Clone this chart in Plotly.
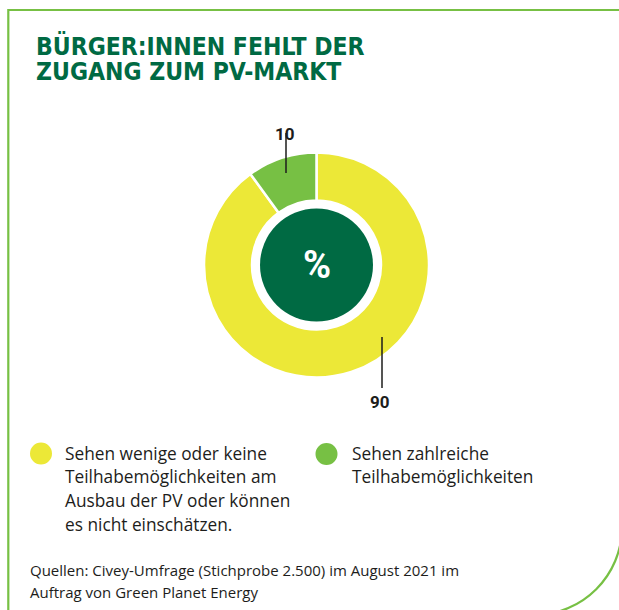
import plotly.graph_objects as go

# ---------------- data ----------------
title_lines = ["BÜRGER:INNEN FEHLT DER", "ZUGANG ZUM PV-MARKT"]
legend_lines = [
    ["Sehen wenige oder keine", "Teilhabemöglichkeiten am", "Ausbau der PV oder können", "es nicht einschätzen."],
    ["Sehen zahlreiche", "Teilhabemöglichkeiten"],
]
categories = [" ".join(l) for l in legend_lines]
values = [90, 10]
colors = ["#ece837", "#77c044"]
center_label = "%"
source_lines = [
    "Quellen: Civey-Umfrage (Stichprobe 2.500) im August 2021 im",
    "Auftrag von Green Planet Energy",
]

# ---------------- layout helpers ----------------
W, H = 619, 610
DARK = "#006a43"
TEXT = "#1d1d1b"
FRAME = "#77c044"
BODY_FONT = "Open Sans"


def px(x):
    return x / W


def py(y):
    return 1 - y / H


cx, cy, R_out, R_hole, R_core = 316.5, 265, 112.5, 64.5, 56.5

fig = go.Figure()
fig.add_trace(go.Pie(
    labels=categories,
    values=values,
    sort=False,
    direction="clockwise",
    rotation=0,
    hole=R_hole / R_out,
    marker=dict(colors=colors, line=dict(color="white", width=2.5)),
    textinfo="none",
    hoverinfo="label+value",
    showlegend=False,
    domain=dict(x=[px(cx - R_out), px(cx + R_out)], y=[py(cy + R_out), py(cy - R_out)]),
))

shapes = []
# frame with rounded bottom-right corner
xr, yb, rc = 622, 615, 88
k = 0.5523 * rc
pts = [
    ("M", [(8.3, 640)]),
    ("L", [(8.3, 10)]),
    ("L", [(xr, 10)]),
    ("L", [(xr, yb - rc)]),
    ("C", [(xr, yb - rc + k), (xr - rc + k, yb), (xr - rc, yb)]),
    ("L", [(8.3, yb)]),
]
path = " ".join(cmd + " " + " ".join(f"{px(x):.5f},{py(y):.5f}" for x, y in p) for cmd, p in pts)
shapes.append(dict(type="path", xref="paper", yref="paper", path=path,
                   line=dict(color=FRAME, width=2.2)))
# inner core disk
shapes.append(dict(type="circle", xref="paper", yref="paper",
                   x0=px(cx - R_core), x1=px(cx + R_core), y0=py(cy + R_core), y1=py(cy - R_core),
                   fillcolor=DARK, line=dict(width=0)))
# leader lines
shapes.append(dict(type="line", xref="paper", yref="paper", x0=px(286), x1=px(286), y0=py(133), y1=py(173),
                   line=dict(color=TEXT, width=1.5)))
shapes.append(dict(type="line", xref="paper", yref="paper", x0=px(382), x1=px(382), y0=py(337), y1=py(388),
                   line=dict(color=TEXT, width=1.5)))
# legend dots
legend_pos = [(41, 453.5, 63), (326.5, 454, 350)]
for (lx, ly, tx), c in zip(legend_pos, colors):
    shapes.append(dict(type="circle", xref="paper", yref="paper",
                       x0=px(lx - 11), x1=px(lx + 11), y0=py(ly + 11), y1=py(ly - 11),
                       fillcolor=c, line=dict(width=0)))

ann = []
# title
for i, t in enumerate(title_lines):
    ann.append(dict(text=t, x=px(34), y=py(46.5 + i * 25), xref="paper", yref="paper",
                    xanchor="left", yanchor="middle", showarrow=False,
                    font=dict(family="DejaVu Sans Condensed, Roboto", size=24.5, color=DARK, weight="bold")))
# centre label
ann.append(dict(text=center_label, x=px(cx), y=py(cy), xref="paper", yref="paper",
                showarrow=False, font=dict(family="Roboto", size=38, color="white", weight="bold")))
# value labels
ann.append(dict(text=str(values[1]), x=px(285), y=py(122.5), xref="paper", yref="paper",
                showarrow=False, font=dict(family="Roboto", size=17, color=TEXT, weight="bold")))
ann.append(dict(text=str(values[0]), x=px(380), y=py(402), xref="paper", yref="paper",
                showarrow=False, font=dict(family="Roboto", size=17, color=TEXT, weight="bold")))
# legend texts
for (lx, ly, tx), lines in zip(legend_pos, legend_lines):
    for j, line in enumerate(lines):
        ann.append(dict(text=line, x=px(tx), y=py(453 + j * 23.7), xref="paper", yref="paper",
                        xanchor="left", yanchor="middle", showarrow=False,
                        font=dict(family=BODY_FONT, size=17.3, color=TEXT)))
# source
for j, line in enumerate(source_lines):
    ann.append(dict(text=line, x=px(28), y=py(570 + j * 21.7), xref="paper", yref="paper",
                    xanchor="left", yanchor="middle", showarrow=False,
                    font=dict(family=BODY_FONT, size=15, color=TEXT)))

fig.update_layout(
    width=W, height=H,
    margin=dict(l=0, r=0, t=0, b=0),
    paper_bgcolor="white", plot_bgcolor="white",
    shapes=shapes, annotations=ann,
)
fig.write_html(
    "out.html",
    config={"displayModeBar": False},
    post_script="document.body.style.margin='0';document.body.style.overflow='hidden';",
)
